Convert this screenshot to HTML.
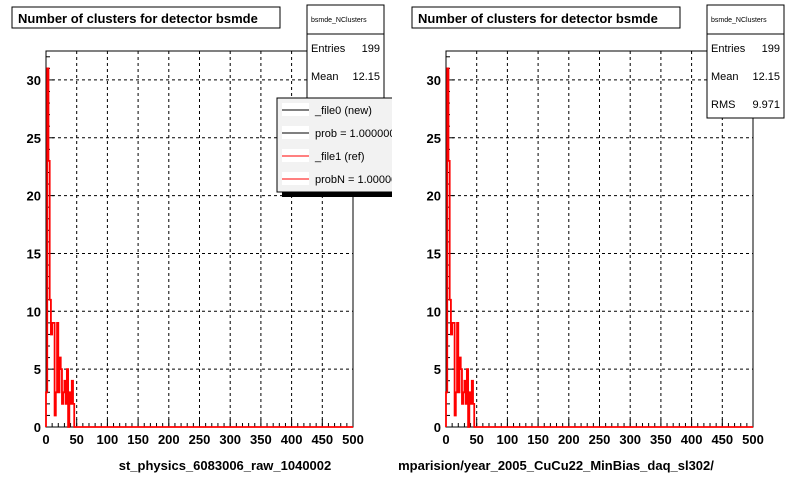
<!DOCTYPE html>
<html><head><meta charset="utf-8"><style>
body{margin:0;background:#fff;width:800px;height:480px;overflow:hidden}
svg text{font-family:"Liberation Sans",Arial,sans-serif}
</style></head><body>
<svg id="c" width="800" height="480" xmlns="http://www.w3.org/2000/svg">
<defs><clipPath id="lclip"><rect x="0" y="0" width="392" height="480"/></clipPath></defs>
</svg>
<script>
const binStarts=[0,2,4,6,8,10,12,14,16,18,20,22,24,26,28,30,32,34,36,38,40,42,44];
const binValues=[3,31,23,11,8,9,9,1,3,9,3,6,5,2,3,4,2,5,0,3,2,4,2];
const xTicks=[0,50,100,150,200,250,300,350,400,450,500];
const yTicks=[0,5,10,15,20,25,30];
const xLabels=["st_physics_6083006_raw_1040002","mparision/year_2005_CuCu22_MinBias_daq_sl302/"];
const statsVals=["199","12.15","9.971"];
const legendItems=["_file0 (new)","prob = 1.000000","_file1 (ref)","probN = 1.000000"];
const NS="http://www.w3.org/2000/svg";
const svg=document.getElementById('c');
function mk(t,a,p){const e=document.createElementNS(NS,t);for(const k in a)e.setAttribute(k,a[k]);(p||svg).appendChild(e);return e;}
function panel(ox,idx){
  const g=mk('g',{});
  
  
  const L=ox+46,R=ox+353,T=51,B=427;
  const sx=v=>L+(v/500)*(R-L), sy=v=>B-v*(B-T)/32.5;
  xTicks.forEach(t=>{if(t>0&&t<500){const l=mk('line',{x1:sx(t),x2:sx(t),y1:T,y2:B,stroke:'#000','stroke-dasharray':'3,3'},g);}});
  yTicks.forEach(t=>{if(t>0){const l=mk('line',{x1:L,x2:R,y1:sy(t),y2:sy(t),stroke:'#000','stroke-dasharray':'3,3'},g);}});
  let d='M'+sx(0)+','+sy(0);
  binStarts.forEach((b,i)=>{d+=' L'+sx(b)+','+sy(binValues[i])+' L'+sx(b+2)+','+sy(binValues[i]);});
  d+=' L'+sx(binStarts[binStarts.length-1]+2)+','+sy(0)+' L'+sx(500)+','+sy(0);
  const f=mk('rect',{x:L,y:T,width:R-L,height:B-T,fill:'none',stroke:'#000'},g);
  
  for(let v=0;v<=500;v+=10){mk('line',{x1:sx(v),x2:sx(v),y1:B,y2:B-(v%50==0?8:4),stroke:'#000'},g);}
  for(let v=0;v<=32;v++){mk('line',{x1:L,x2:L+(v%5==0?8:4),y1:sy(v),y2:sy(v),stroke:'#000'},g);}
  const h=mk('path',{d:d,fill:'none',stroke:'#f00','stroke-width':1.8},g);
  
  xTicks.forEach(t=>{const e=mk('text',{x:sx(t),y:B+17,'text-anchor':'middle','font-size':13,'font-weight':'bold'},g);e.textContent=t;});
  yTicks.forEach(t=>{const e=mk('text',{x:L-5,y:sy(t)+5,'text-anchor':'end','font-size':13,'font-weight':'bold'},g);e.textContent=t;});
  const xl=mk('text',{x:idx?556:225,y:470,'text-anchor':'middle','font-size':13,'font-weight':'bold'},g);
  xl.textContent=xLabels[idx];
  const tb=mk('rect',{x:ox+12,y:7,width:268,height:21,fill:'#fff',stroke:'#000'},g);
  
  const tt=mk('text',{x:ox+18,y:23,'font-size':13,'font-weight':'bold'},g);
  tt.textContent='Number of clusters for detector bsmde';
  const sb=mk('rect',{x:ox+307,y:5,width:77,height:113,fill:'#fff',stroke:'#000'},g);
  
  mk('line',{x1:ox+307,x2:ox+384,y1:34,y2:34,stroke:'#000'},g);
  const st=mk('text',{x:ox+311,y:22,'font-size':7},g);st.textContent='bsmde_NClusters';
  const rows=['Entries','Mean','RMS'];
  rows.forEach((r,i)=>{const a=mk('text',{x:ox+311,y:52+i*28,'font-size':11},g);a.textContent=r;
    const b=mk('text',{x:ox+380,y:52+i*28,'font-size':11,'text-anchor':'end'},g);b.textContent=statsVals[i];});
  if(idx===0){
    const lg=mk('g',{'clip-path':'url(#lclip)'},g);
    mk('rect',{x:282,y:103,width:130,height:94,fill:'#000'},lg);
    mk('rect',{x:277,y:98,width:130,height:94,fill:'#f2f2f2',stroke:'#000'},lg);
    legendItems.forEach((s,i)=>{const y=110+i*23;
      mk('rect',{x:282,y:y-7,width:27,height:13,fill:'#fff'},lg);
      mk('line',{x1:282,x2:309,y1:y,y2:y,stroke:i<2?'#000':'#f00'},lg);
      const e=mk('text',{x:315,y:y+4,'font-size':11},lg);e.textContent=s;});
  }
}
panel(0,0);panel(400,1);
</script>
</body></html>
